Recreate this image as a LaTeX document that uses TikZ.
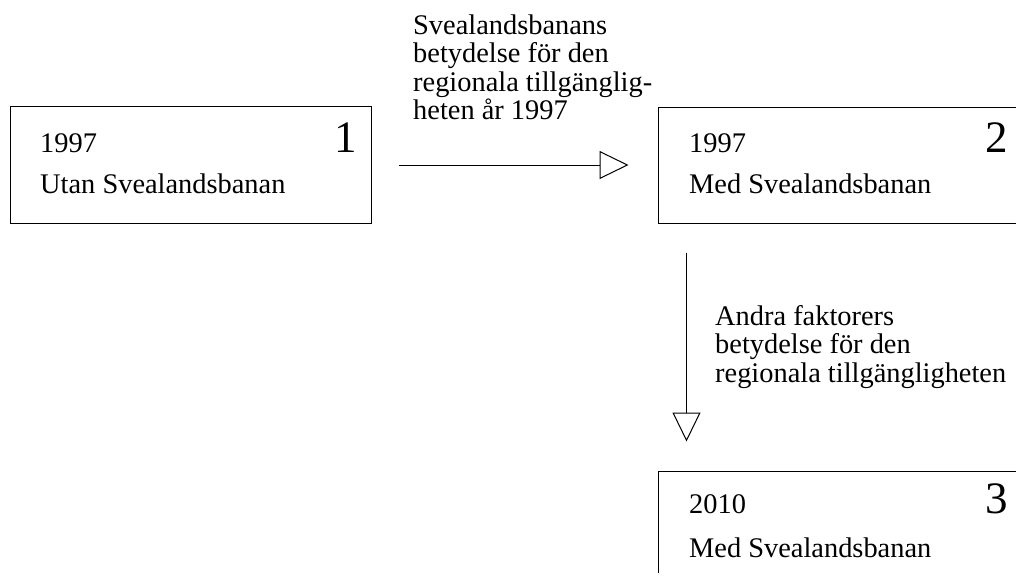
\documentclass[tikz,border=0pt]{standalone}
\usepackage{fontspec}
\setmainfont{Liberation Serif}
\usetikzlibrary{arrows.meta}
\begin{document}
\begin{tikzpicture}[x=1pt,y=-1pt,
  box/.style={draw=black, line width=1pt, rectangle, inner sep=0pt},
  txt/.style={anchor=base west, inner sep=0pt, font=\fontsize{28.4}{28.5}\selectfont},
  num/.style={anchor=base east, inner sep=0pt, font=\fontsize{45}{45}\selectfont},
  lbl/.style={anchor=base west, inner sep=0pt, align=left, font=\fontsize{28.4}{28.5}\selectfont},
  arr/.style={draw=black, line width=1pt, -{Triangle[open, length=29pt, width=28pt]}}]
\useasboundingbox (0,0) rectangle (1016,581);
\clip (0,0) rectangle (1016,572);
\node[box, minimum width=361pt, minimum height=117pt] (box1) at (190.5,165) {};
\node[box, minimum width=400pt, minimum height=116pt] (box2) at (858,165) {};
\node[box, minimum width=400pt, minimum height=150pt] (box3) at (858,546) {};
\node[txt] (y1) at (40,152) {1997};
\node[txt] (t1) at (40,193) {Utan Svealandsbanan};
\node[num] (n1) at (357,152) {1};
\node[txt] (y2) at (689,152) {1997};
\node[txt] (t2) at (689,193) {Med Svealandsbanan};
\node[num] (n2) at (1008,152) {2};
\node[txt] (y3) at (689,513) {2010};
\node[txt] (t3) at (689,557) {Med Svealandsbanan};
\node[num] (n3) at (1008,513) {3};
\node[lbl] (l1) at (413,119.5) {Svealandsbanans\\betydelse för den\\regionala tillgänglig-\\heten år 1997};
\node[lbl] (l2) at (715,382) {Andra faktorers\\betydelse för den\\regionala tillgängligheten};
\draw[arr, shorten <=27pt, shorten >=29pt] (box1) -- (box2);
\draw[arr, shorten <=29pt, shorten >=29pt] ([xshift=29pt]box2.south west) -- ([xshift=29pt]box3.north west);
\end{tikzpicture}
\end{document}
